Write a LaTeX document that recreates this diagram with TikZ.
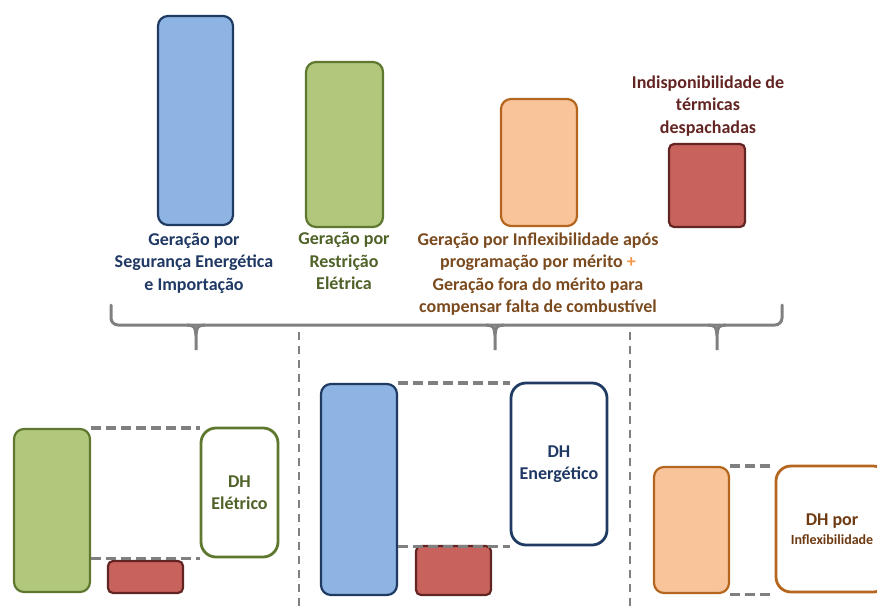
\documentclass[tikz,border=0pt]{standalone}
\usepackage{fontspec}
\setmainfont{Carlito}
\usepackage{tikz}
\usetikzlibrary{positioning}

\definecolor{azulf}{HTML}{8DB4E2}
\definecolor{azulb}{HTML}{1F3B63}
\definecolor{verdef}{HTML}{B0C77C}
\definecolor{verdeb}{HTML}{5F7830}
\definecolor{laranjaf}{HTML}{F9C49A}
\definecolor{laranjab}{HTML}{B5661E}
\definecolor{vermf}{HTML}{C8625C}
\definecolor{vermb}{HTML}{632523}
\definecolor{cinza}{HTML}{808080}
\definecolor{azult}{HTML}{1F3864}
\definecolor{verdet}{HTML}{4F6228}
\definecolor{marromt}{HTML}{7B4A1E}
\definecolor{laranjat}{HTML}{F79646}
\definecolor{dhmarrom}{HTML}{6E3A12}

\tikzset{
  barra/.style={rectangle, rounded corners=10pt, line width=2.2pt, inner sep=0pt},
  barraazul/.style={barra, draw=azulb, fill=azulf},
  barraverde/.style={barra, draw=verdeb, fill=verdef},
  barralaranja/.style={barra, draw=laranjab, fill=laranjaf},
  barraverm/.style={barra, rounded corners=5pt, draw=vermb, fill=vermf},
  caixadh/.style={rectangle, rounded corners=15pt, line width=2.8pt, fill=white, align=center,
    font=\fontsize{18}{22}\selectfont\bfseries},
  rotulo/.style={align=center, font=\fontsize{18}{22.5}\selectfont\bfseries},
  tracejado/.style={draw=cinza, line width=3.2pt, dash pattern=on 10pt off 5pt},
  divisor/.style={draw=cinza, line width=1.8pt, dash pattern=on 8pt off 6pt},
  chave/.style={draw=cinza, line width=3pt, line cap=round}
}

\begin{document}
\begin{tikzpicture}[x=1pt,y=-1pt]
    \useasboundingbox (0,0) rectangle (877,608);
    \clip (0,0) rectangle (877,608);

    % barras de cima
    \draw (195.5,120.5) node[barraazul, minimum width=75pt, minimum height=209pt] (barra1) {};
    \draw (344.5,144.5) node[barraverde, minimum width=77pt, minimum height=165pt] (barra2) {};
    \draw (539,162.5) node[barralaranja, minimum width=76pt, minimum height=127pt] (barra3) {};
    \draw (707,185.5) node[barraverm, minimum width=76pt, minimum height=83pt] (barra4) {};

    \draw (194,263) node[rotulo, text=azult] (rotulo1) {Geração por\\Segurança Energética\\e Importação};
    \draw (344,261) node[rotulo, text=verdet] (rotulo2) {Geração por\\Restrição\\Elétrica};
    \draw (538,274) node[rotulo, text=marromt] (rotulo3) {Geração por Inflexibilidade após\\programação por mérito \textcolor{laranjat}{+}\\Geração fora do mérito para\\compensar falta de combustível};
    \draw (708,106) node[rotulo, text=vermb] (rotulo4) {Indisponibilidade de\\térmicas\\despachadas};

    % chave
    \draw[chave, rounded corners=7pt] (111,305) -- (111,325) -- (782,325) -- (782,305);
    \foreach \x in {196,495,717}
      \draw[chave, line cap=butt] (\x-9,325) .. controls (\x-1,326) .. (\x,336) -- (\x,350)
                                  (\x+9,325) .. controls (\x+1,326) .. (\x,336);

    \draw[divisor] (299,332) -- (299,608);
    \draw[divisor] (630,332) -- (630,608);

    % painel eletrico
    \draw (52,510.5) node[barraverde, minimum width=76pt, minimum height=163pt] (verde1) {};
    \draw (145.5,577) node[barraverm, minimum width=75pt, minimum height=32pt] (verm1) {};
    \draw (239.5,492.5) node[caixadh, draw=verdeb, text=verdet, minimum width=77pt, minimum height=129pt] (dh1) {DH\\Elétrico};
    \path[tracejado] (verde1.north east) edge (verde1.north east -| dh1.west);
    \path[tracejado] (dh1.south west -| verde1.east) edge (dh1.south west);

    % painel energetico
    \draw (359,489.5) node[barraazul, minimum width=76pt, minimum height=211pt] (azul2) {};
    \draw (453.5,570.5) node[barraverm, minimum width=75pt, minimum height=49pt] (verm2) {};
    \draw (559,464) node[caixadh, draw=azulb, text=azult, minimum width=96pt, minimum height=162pt] (dh2) {DH\\Energético};
    \path[tracejado] (azul2.north east) edge (azul2.north east -| dh2.west);
    \path[tracejado] (dh2.south west -| azul2.east) edge (dh2.south west);

    % painel inflexibilidade
    \draw (691.5,530) node[barralaranja, minimum width=75pt, minimum height=126pt] (laranja3) {};
    \draw (832,529) node[caixadh, draw=laranjab, text=dhmarrom, minimum width=112pt, minimum height=126pt] (dh3) {DH por\\[-3pt]{\fontsize{14}{17}\selectfont Inflexibilidade}};
    \path[tracejado] (laranja3.north east) edge (laranja3.north east -| dh3.west);
    \path[tracejado] (laranja3.south east) edge (laranja3.south east -| dh3.west);

\end{tikzpicture}
\end{document}
